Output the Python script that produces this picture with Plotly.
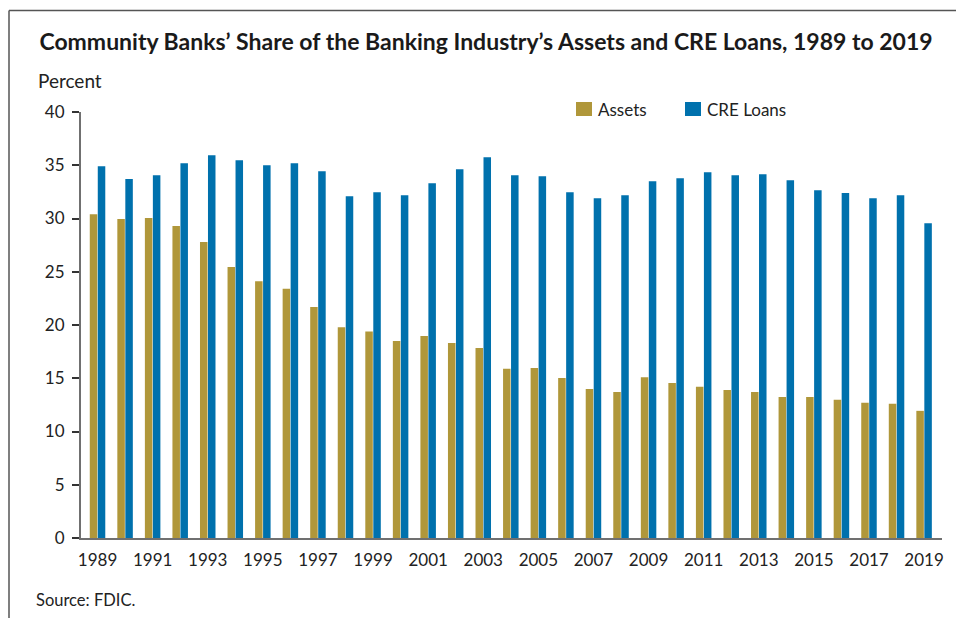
import plotly.graph_objects as go

years = list(range(1989, 2020))
assets = [30.4, 29.95, 30.05, 29.3, 27.8, 25.45, 24.1, 23.4, 21.7, 19.8, 19.4, 18.5, 18.97, 18.3, 17.85,
          15.9, 15.97, 15.03, 14.0, 13.72, 15.1, 14.56, 14.2, 13.9, 13.72, 13.25, 13.25, 12.97, 12.7, 12.6, 11.94]
cre_loans = [34.9, 33.7, 34.06, 35.19, 35.94, 35.47, 35.0, 35.19, 34.44, 32.1, 32.47, 32.19, 33.31, 34.63, 35.75,
             34.06, 33.97, 32.47, 31.9, 32.19, 33.5, 33.78, 34.34, 34.06, 34.16, 33.6, 32.66, 32.4, 31.9, 32.19, 29.56]
year_ticks = list(range(1989, 2020, 2))
y_ticks = [0, 5, 10, 15, 20, 25, 30, 35, 40]
series_names = ["Assets", "CRE Loans"]

FONT = "Lato"
GOLD = "#B0973A"
BLUE = "#0071AD"
TXT = "#222222"

fig = go.Figure()
fig.add_trace(go.Bar(x=years, y=assets, name=series_names[0], showlegend=False,
                     marker=dict(color=GOLD, line=dict(width=0))))
fig.add_trace(go.Bar(x=years, y=cre_loans, name=series_names[1], showlegend=False,
                     marker=dict(color=BLUE, line=dict(width=0))))

L, R, T, B = 81, 14, 112, 80
W, H = 956, 618
pw, ph = W - L - R, H - T - B

def px(x):
    return (x - L) / pw

def py(y):
    return (H - B - y) / ph

shapes = [
    dict(type="line", xref="paper", yref="paper", x0=px(9), x1=px(956),
         y0=py(10.5), y1=py(10.5), line=dict(color="#555555", width=1.5)),
    dict(type="line", xref="paper", yref="paper", x0=px(9), x1=px(9),
         y0=py(10.5), y1=py(620), line=dict(color="#555555", width=1.5)),
]
annotations = [
    dict(text="Percent", xref="paper", yref="paper", x=px(36), y=py(80),
         xanchor="left", yanchor="middle", showarrow=False,
         font=dict(family=FONT, size=19, color=TXT)),
    dict(text="Source: FDIC.", xref="paper", yref="paper", x=px(34), y=py(600),
         xanchor="left", yanchor="middle", showarrow=False,
         font=dict(family=FONT, size=16.5, color=TXT)),
]
# legend (swatch + label)
for name, color, sx in zip(series_names, [GOLD, BLUE], [576, 685]):
    shapes.append(dict(type="rect", xref="paper", yref="paper", x0=px(sx), x1=px(sx + 16),
                       y0=py(116), y1=py(102), fillcolor=color, line=dict(width=0)))
    annotations.append(dict(text=name, xref="paper", yref="paper", x=px(sx + 20), y=py(109),
                            xanchor="left", yanchor="middle", showarrow=False,
                            font=dict(family=FONT, size=17, color=TXT)))

fig.update_layout(
    width=W, height=H,
    margin=dict(l=L, r=R, t=T, b=B, pad=0),
    paper_bgcolor="white", plot_bgcolor="white",
    font=dict(family=FONT, size=17, color=TXT),
    barmode="group", bargap=0.42, bargroupgap=0.06,
    title=dict(text="<b>Community Banks’ Share of the Banking Industry’s Assets and CRE Loans, 1989 to 2019</b>",
               x=486 / W, xanchor="center", xref="container", y=1 - 42 / H, yanchor="middle",
               font=dict(family=FONT, size=23, color="#1a1a1a")),
    showlegend=False,
    xaxis=dict(range=[1988.40, 2019.65], tickmode="array", tickvals=year_ticks,
               ticktext=[str(y) for y in year_ticks], showgrid=False, zeroline=False,
               showline=True, linecolor="#707070", linewidth=2, ticks="outside", ticklen=6,
               tickcolor="rgba(0,0,0,0)", tickfont=dict(family=FONT, size=17, color=TXT)),
    yaxis=dict(range=[0, 40], tickmode="array", tickvals=y_ticks, showgrid=False, zeroline=False,
               showline=True, linecolor="#707070", linewidth=2, ticks="outside", ticklen=7,
               tickcolor="#333333", tickwidth=1.5, ticklabelstandoff=4,
               tickfont=dict(family=FONT, size=17, color=TXT)),
    annotations=annotations,
    shapes=shapes,
)

fig.write_html("out.html", config={"displayModeBar": False},
               post_script="document.body.style.margin='0';document.body.style.overflow='hidden';")
